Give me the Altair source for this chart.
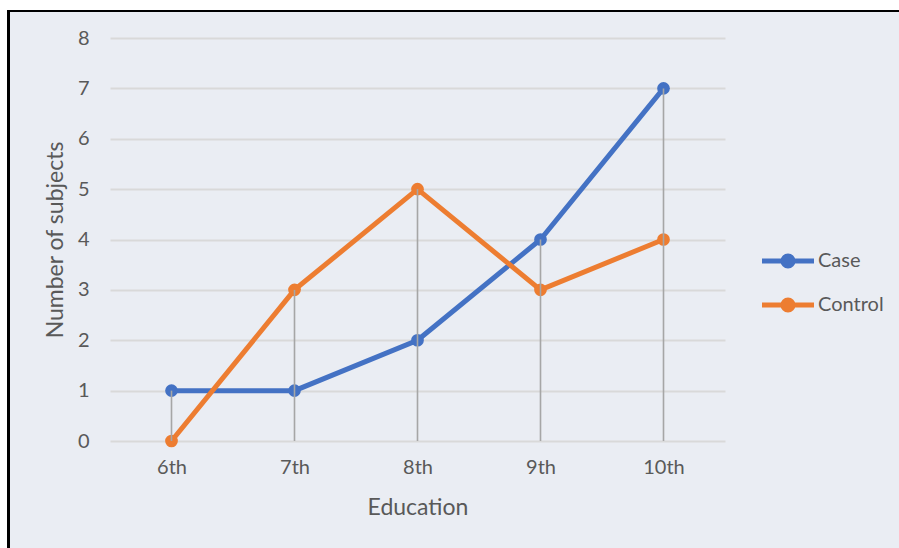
import altair as alt
import pandas as pd

categories = ["6th", "7th", "8th", "9th", "10th"]
case_values = [1, 1, 2, 4, 7]
control_values = [0, 3, 5, 3, 4]
series_names = ["Case", "Control"]
series_colors = ["#4472C4", "#ED7D31"]
y_ticks = [0, 1, 2, 3, 4, 5, 6, 7, 8]

rows = []
for c, v in zip(categories, case_values):
    rows.append({"Education": c, "Series": "Case", "Value": v})
for c, v in zip(categories, control_values):
    rows.append({"Education": c, "Series": "Control", "Value": v})
df = pd.DataFrame(rows)

FONT = "Lato"
TXT = "#595959"

x_scale = alt.Scale(type="point", padding=0.5)
y_scale = alt.Scale(domain=[0, 8], nice=False)

x_enc = alt.X(
    "Education:N",
    sort=categories,
    scale=x_scale,
    axis=alt.Axis(
        title="Education", domain=False, ticks=False, grid=False,
        labelFont=FONT, labelFontSize=20, labelColor=TXT, labelPadding=16,
        labelAngle=0,
        titleFont=FONT, titleFontSize=23, titleColor=TXT, titleFontWeight="normal",
        titleY=66, titleBaseline="middle",
    ),
)
y_enc = alt.Y(
    "Value:Q",
    scale=y_scale,
    axis=alt.Axis(
        title="Number of subjects", values=y_ticks, domain=False, ticks=False,
        grid=True, gridColor="#D9D9D9", gridWidth=2,
        labelFont=FONT, labelFontSize=20, labelColor=TXT, labelPadding=21,
        titleFont=FONT, titleFontSize=23, titleColor=TXT, titleFontWeight="normal",
        titleX=-55, titleBaseline="middle",
    ),
)

color_scale = alt.Scale(domain=series_names, range=series_colors)

legend_path = "M-3.714,0L3.714,0M0.72,0A0.72,0.72,0,1,1,-0.72,0A0.72,0.72,0,1,1,0.72,0Z"
legend = alt.Legend(
    title=None, orient="none", legendX=668, legendY=213,
    symbolType=legend_path, symbolSize=196, symbolStrokeWidth=5,
    labelFont=FONT, labelFontSize=20, labelColor=TXT, labelOffset=20,
    rowPadding=12, padding=0,
)

white_top = alt.Chart(alt.Data(values=[{}])).mark_rect(color="white").encode(
    x=alt.value(-110), x2=alt.value(789), y=alt.value(-38), y2=alt.value(-28)
)
white_left = alt.Chart(alt.Data(values=[{}])).mark_rect(color="white").encode(
    x=alt.value(-110), x2=alt.value(-103), y=alt.value(-38), y2=alt.value(510)
)
border_left = alt.Chart(alt.Data(values=[{}])).mark_rect(color="black").encode(
    x=alt.value(-103), x2=alt.value(-100), y=alt.value(-28), y2=alt.value(510)
)
border_top = alt.Chart(alt.Data(values=[{}])).mark_rect(color="black").encode(
    x=alt.value(-103), x2=alt.value(789), y=alt.value(-28), y2=alt.value(-26)
)

base = alt.Chart(df)

lines = base.mark_line(strokeWidth=5).encode(
    x=x_enc, y=y_enc,
    stroke=alt.Stroke("Series:N", scale=color_scale, legend=legend),
)
points = base.mark_point(filled=True, size=115, opacity=1).encode(
    x=x_enc, y=y_enc,
    fill=alt.Fill("Series:N", scale=color_scale, legend=legend),
    stroke=alt.Stroke("Series:N", scale=color_scale, legend=legend),
)
drops = base.transform_aggregate(
    maxv="max(Value)", groupby=["Education"]
).mark_rule(color="#A6A6A6", strokeWidth=1.6).encode(
    x=alt.X("Education:N", sort=categories, scale=x_scale),
    y=alt.Y("maxv:Q", scale=y_scale),
    y2=alt.datum(0),
)

chart = alt.layer(lines, points, drops, white_top, white_left, border_left, border_top).properties(
    width=615, height=403,
    autosize=alt.AutoSizeParams(type="none"),
    padding={"left": 110, "top": 38, "right": 174, "bottom": 107},
    background="#EAEDF3",
).configure_view(strokeWidth=0)

chart.save("out.html", embed_options={"renderer": "svg", "actions": False})
